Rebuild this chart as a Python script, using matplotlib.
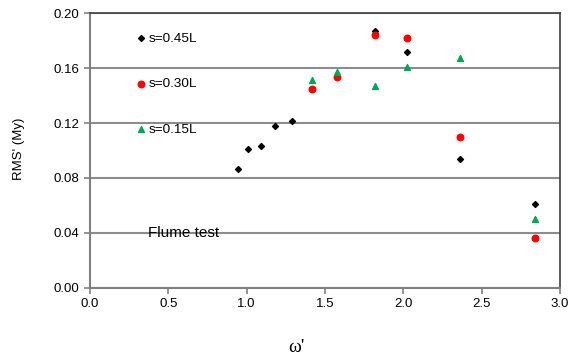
import matplotlib
matplotlib.use("Agg")
import matplotlib.pyplot as plt

# Data
x45 = [0.944, 1.01, 1.09, 1.18, 1.289, 1.819, 2.025, 2.363, 2.838]
y45 = [0.0863, 0.1013, 0.1035, 0.118, 0.1215, 0.187, 0.1716, 0.0936, 0.0612]
x30 = [1.417, 1.574, 1.819, 2.025, 2.363, 2.838]
y30 = [0.1448, 0.1538, 0.184, 0.182, 0.1096, 0.036]
x15 = [1.417, 1.574, 1.819, 2.025, 2.363, 2.838]
y15 = [0.1516, 0.157, 0.1472, 0.1609, 0.1671, 0.0499]
labels = ["s=0.45L", "s=0.30L", "s=0.15L"]
xticks = [0.0, 0.5, 1.0, 1.5, 2.0, 2.5, 3.0]
yticks = [0.00, 0.04, 0.08, 0.12, 0.16, 0.20]

plt.rcParams['font.family'] = ['Liberation Sans', 'DejaVu Sans']
fig = plt.figure(figsize=(5.7, 3.58), dpi=100)
ax = fig.add_axes([90/570, 1 - 287.7/358, 470/570, 274.4/358])

ax.scatter(x45, y45, marker='D', s=9, color='black', label=labels[0], zorder=3)
ax.scatter(x30, y30, marker='o', s=22, color='#ff0000', label=labels[1], zorder=3)
ax.scatter(x15, y15, marker='^', s=18, color='#00a651', label=labels[2], zorder=3)

ax.set_xlim(0, 3.0)
ax.set_ylim(0, 0.20)
ax.set_xticks(xticks)
ax.set_xticklabels([f"{v:.1f}" for v in xticks])
ax.set_yticks(yticks)
ax.set_yticklabels([f"{v:.2f}" for v in yticks])
ax.tick_params(axis='both', labelsize=9.5, direction='out', length=4, width=1.2, color='#808080')
ax.grid(axis='y', color='#8c8c8c', linewidth=1.5, zorder=0)
ax.set_axisbelow(True)
for side in ['left', 'bottom']:
    ax.spines[side].set_color('#808080')
    ax.spines[side].set_linewidth(1.5)
for side in ['top', 'right']:
    ax.spines[side].set_color('#404040')
    ax.spines[side].set_linewidth(1.2)

fig.text(19/570, 1 - 149/358, "RMS' (My)", fontsize=9.5, rotation=90, ha='center', va='center')
fig.text(296/570, 1 - 347/358, "ω'", fontsize=14, family=['Liberation Serif', 'DejaVu Serif'],
         ha='center', va='center')

ax.text(0.37, 0.040, "Flume test", fontsize=11, va='center', ha='left')

leg = ax.legend(loc='upper left', bbox_to_anchor=(0.08, 0.95), frameon=False, fontsize=9.7,
                labelspacing=2.45, handletextpad=0.0, handlelength=1.2, borderaxespad=0)

fig.savefig("out.png", dpi=100)
